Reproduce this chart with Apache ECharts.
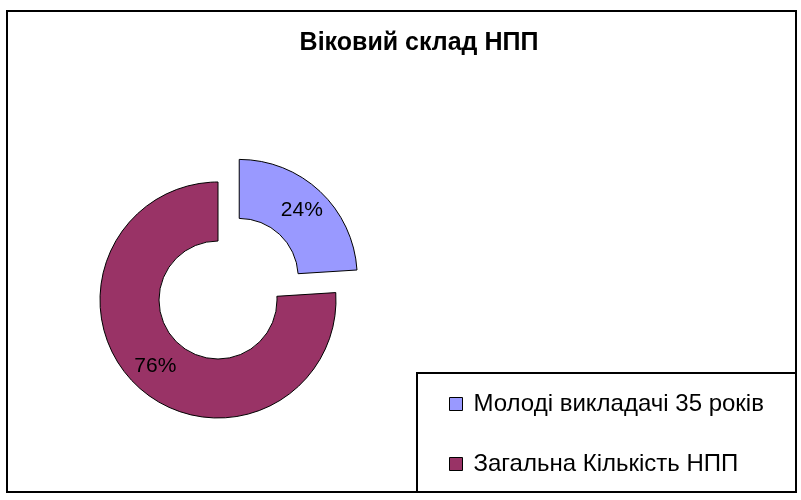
<!DOCTYPE html>
<html><head><meta charset="utf-8">
<script src="https://cdn.jsdelivr.net/npm/echarts@6/dist/echarts.min.js"></script>
<style>html,body{margin:0;padding:0;background:#fff}#c{width:801px;height:500px}</style>
</head><body><div id="c"></div>
<script>
const titleText = 'Віковий склад НПП';
const categories = ['Молоді викладачі 35 років', 'Загальна Кількість НПП'];
const values = [24, 76];
const colors = ['#9999FF', '#993366'];

const chart = echarts.init(document.getElementById('c'), null, {renderer: 'canvas'});
chart.setOption({
  animation: false,
  backgroundColor: '#fff',
  title: {
    text: titleText, left: 414, top: 26, textAlign: 'center',
    textStyle: {fontFamily: 'Liberation Sans, Arial', fontWeight: 'bold', fontSize: 25, color: '#000'}
  },
  graphic: [
    {type: 'rect', shape: {x: 7, y: 11, width: 789, height: 481}, style: {fill: null, stroke: '#000', lineWidth: 2}, z: 100},
    {type: 'rect', shape: {x: 417, y: 373, width: 379, height: 119}, style: {fill: null, stroke: '#000', lineWidth: 2}, z: 100}
  ],
  legend: {
    orient: 'vertical', left: 444, top: 387,
    itemWidth: 13, itemHeight: 13, itemGap: 36,
    icon: 'rect',
    itemStyle: {borderColor: '#000', borderWidth: 1},
    textStyle: {fontFamily: 'Liberation Sans, Arial', fontSize: 24, color: '#000', padding: [0,0,0,6]},
    data: categories
  },
  series: [{
    type: 'pie',
    center: [218, 300],
    radius: [59, 118],
    startAngle: 90,
    clockwise: true,
    selectedMode: 'single',
    selectedOffset: 31,
    emphasis: {disabled: true},
    itemStyle: {borderColor: '#000', borderWidth: 1},
    label: {
      position: 'inside', formatter: '{d}%',
      fontFamily: 'Liberation Sans, Arial', fontSize: 21, color: '#000'
    },
    labelLine: {show: false},
    data: categories.map((n, i) => ({
      name: n, value: values[i], selected: i === 0,
      itemStyle: {color: colors[i]}
    }))
  }]
});
</script></body></html>
